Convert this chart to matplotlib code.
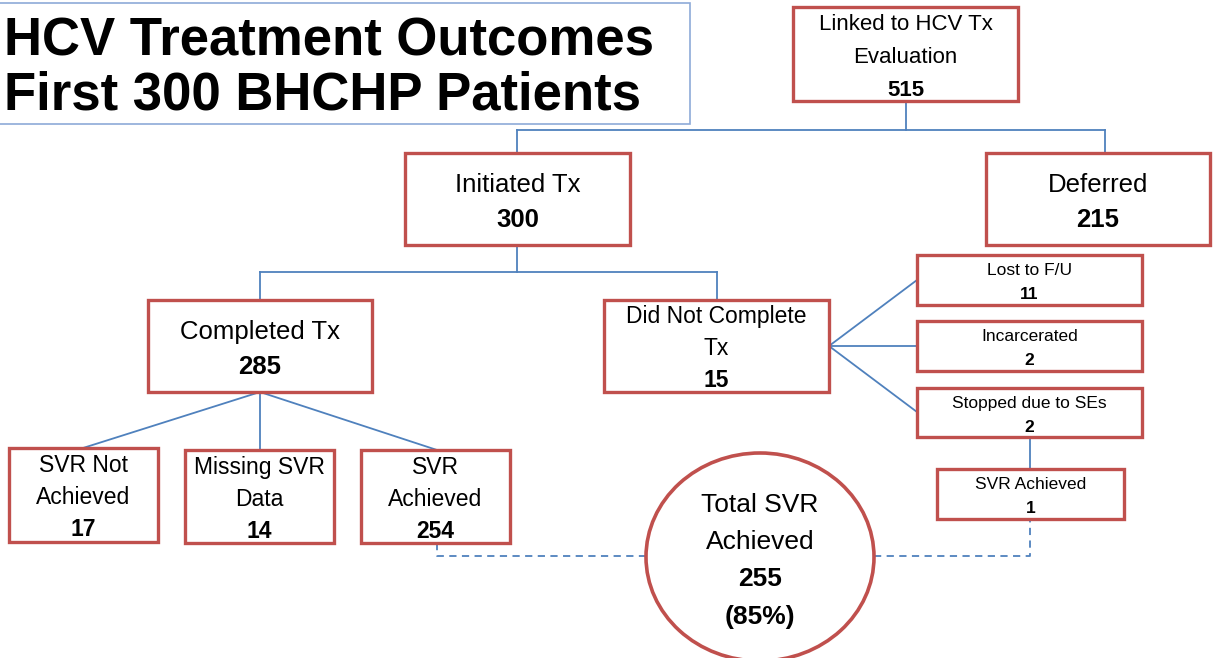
import matplotlib.pyplot as plt
from matplotlib.patches import Rectangle, Ellipse

# chart content
title_lines = ["HCV Treatment Outcomes", "First 300 BHCHP Patients"]
node_labels = ["Linked to HCV Tx\nEvaluation", "Initiated Tx", "Deferred",
               "Completed Tx", "Did Not Complete\nTx",
               "Lost to F/U", "Incarcerated", "Stopped due to SEs", "SVR Achieved",
               "SVR Not\nAchieved", "Missing SVR\nData", "SVR\nAchieved"]
node_counts = [515, 300, 215, 285, 15, 11, 2, 2, 1, 17, 14, 254]
total_label = "Total SVR\nAchieved"
total_svr = 255
total_pct = 85

# layout (pixels): x0, y0, x1, y1, font size, line height
boxes = [
    (793, 7, 1018, 101, 16, 32.5),
    (405, 153, 630, 245, 18.5, 35),
    (986, 153, 1210, 245, 18.5, 35),
    (148, 300, 372, 392, 18.5, 35),
    (604, 300, 829, 392, 16.5, 32),
    (917, 255, 1142, 305, 12.5, 24),
    (917, 321, 1142, 371, 12.5, 24),
    (917, 388, 1142, 437, 12.5, 24),
    (937, 469, 1124, 519, 12.5, 24),
    (9, 448, 158, 542, 16.5, 32),
    (185, 450, 334, 543, 16.5, 32),
    (361, 450, 510, 543, 16.5, 32),
]

RED = "#c0504d"
BLUE = "#4f81bd"
FONT = ["Liberation Sans", "DejaVu Sans"]

fig = plt.figure(figsize=(12.16, 6.58), dpi=100)
ax = fig.add_axes([0, 0, 1, 1])
ax.set_xlim(0, 1216)
ax.set_ylim(658, 0)
ax.axis("off")

# title box
ax.add_patch(Rectangle((-5, 3), 695, 121, fill=False, ec="#8eaad8", lw=1.2))
ax.text(4, 55, title_lines[0], fontsize=38, fontweight="bold", family=FONT,
        va="baseline", ha="left")
ax.text(4, 110, title_lines[1], fontsize=38, fontweight="bold", family=FONT,
        va="baseline", ha="left")


def line(xs, ys, dashed=False):
    ax.plot(xs, ys, color=BLUE, lw=1.3, ls=(0, (4, 3)) if dashed else "-", zorder=1)


def label(x, y, t, fs, bold):
    # y is the vertical centre of the capitals
    ax.text(x, y + fs * 0.5, t, fontsize=fs, family=FONT, ha="center", va="baseline",
            fontweight="bold" if bold else "normal", zorder=3)


# connectors
line([906, 906], [101, 130])
line([517, 1105], [130, 130])
line([517, 517], [130, 153])
line([1105, 1105], [130, 153])
line([517, 517], [245, 272])
line([260, 717], [272, 272])
line([260, 260], [272, 300])
line([717, 717], [272, 300])
line([260, 83], [392, 448])
line([260, 260], [392, 450])
line([260, 437], [392, 450])
line([829, 917], [346, 280])
line([829, 917], [346, 346])
line([829, 917], [346, 412])
line([1030, 1030], [437, 469])
line([437, 437, 648], [543, 556, 556], dashed=True)
line([874, 1030, 1030], [556, 556, 519], dashed=True)

# boxes
for (x0, y0, x1, y1, fs, lh), lab, cnt in zip(boxes, node_labels, node_counts):
    ax.add_patch(Rectangle((x0, y0), x1 - x0, y1 - y0, fc="white", ec=RED, lw=2.4, zorder=2))
    lines = lab.split("\n") + [str(cnt)]
    cx = (x0 + x1) / 2
    cy = (y0 + y1) / 2 + 1
    n = len(lines)
    for i, t in enumerate(lines):
        label(cx, cy + (i - (n - 1) / 2) * lh, t, fs, i == n - 1)

# total circle
ax.add_patch(Ellipse((760, 557), 228, 208, fc="white", ec=RED, lw=2.6, zorder=2))
circle_lines = total_label.split("\n") + [str(total_svr), "(%d%%)" % total_pct]
for i, t in enumerate(circle_lines):
    label(760, 502 + i * 37.5, t, 19, i >= 2)

fig.savefig("out.png", dpi=100)
